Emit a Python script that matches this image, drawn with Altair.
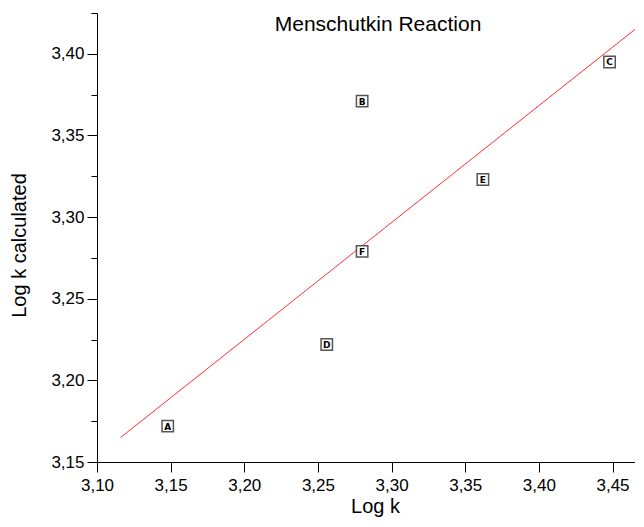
import altair as alt
import pandas as pd

labels = ["A", "B", "C", "D", "E", "F"]
log_k = [3.148, 3.280, 3.448, 3.256, 3.362, 3.280]
log_k_calc = [3.172, 3.371, 3.395, 3.222, 3.323, 3.279]

fit_x = [3.116, 3.48]
fit_y = [3.165, 3.4255]

pts = pd.DataFrame({"label": labels, "x": log_k, "y": log_k_calc})
fit = pd.DataFrame({"x": fit_x, "y": fit_y})

W, H = 546, 449
xdom = [3.10, 3.4707]
ydom = [3.15, 3.425]

xticks = [round(3.10 + 0.025 * i, 3) for i in range(15)]
yticks = [round(3.15 + 0.025 * i, 3) for i in range(12)]

is_major = "abs(datum.value*20 - round(datum.value*20)) < 0.001"
lab_expr = is_major + " ? replace(format(datum.value, '.2f'), '.', ',') : ''"
tick_size = {"condition": {"test": is_major, "value": 10}, "value": 6}

FONT = "Liberation Sans"
common = dict(grid=False, labelExpr=lab_expr, domainColor="black", tickColor="black",
              labelFontSize=17, titleFontSize=20, labelFont=FONT, titleFont=FONT,
              titleFontWeight="normal", labelColor="black", titleColor="black",
              labelFlush=False, labelOverlap=False, tickSize=tick_size)

xs = alt.Scale(domain=xdom, nice=False, zero=False)
ys = alt.Scale(domain=ydom, nice=False, zero=False)

xax = alt.Axis(values=xticks, labelPadding=5, titlePadding=3, titleX=278, **common)
yax = alt.Axis(values=yticks, labelPadding=3, titlePadding=21, titleY=232, **common)

line = alt.Chart(fit).mark_line(color="#ff3030", strokeWidth=1, clip=True).encode(
    x=alt.X("x:Q", scale=xs, axis=xax, title="Log k"),
    y=alt.Y("y:Q", scale=ys, axis=yax, title="Log k calculated"),
)

sq = alt.Chart(pts).mark_square(size=130, filled=True, fill="white", stroke="#555555",
                                 strokeWidth=1.5, opacity=1).encode(
    x=alt.X("x:Q", scale=xs), y=alt.Y("y:Q", scale=ys))

txt = alt.Chart(pts).mark_text(font="DejaVu Sans", fontSize=9, fontWeight="bold", color="black",
                                baseline="middle", align="center", dy=0.5).encode(
    x=alt.X("x:Q", scale=xs), y=alt.Y("y:Q", scale=ys), text="label:N")

title = alt.Chart(pd.DataFrame({"t": ["Menschutkin Reaction"]})).mark_text(
    font=FONT, fontSize=21, color="black", baseline="alphabetic", align="center").encode(
    x=alt.value(281), y=alt.value(18), text="t:N")

chart = alt.layer(line, sq, txt, title).properties(
    width=W, height=H,
    autosize=alt.AutoSizeParams(type="none"),
    padding={"left": 89, "top": 5, "right": -8, "bottom": 57},
).configure_view(stroke=None)

chart.save("out.html", embed_options={"renderer": "svg", "actions": False})
